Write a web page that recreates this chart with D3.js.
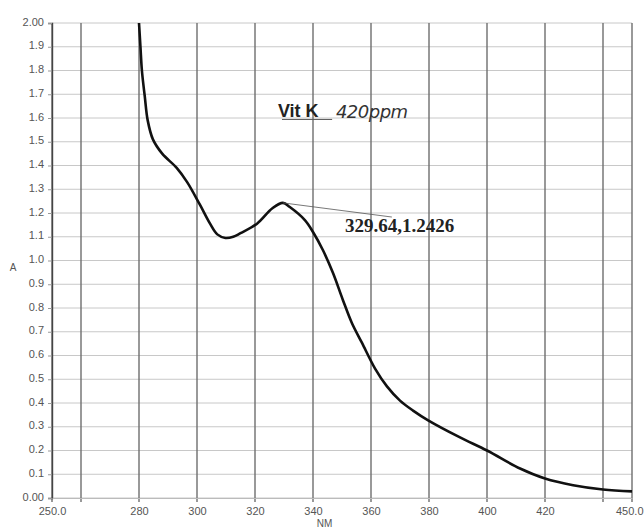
<!DOCTYPE html>
<html>
<head>
<meta charset="utf-8">
<script src="https://cdn.jsdelivr.net/npm/d3@7"></script>
<style>
  body { margin: 0; background: #fff; }
  svg { display: block; font-family: "Liberation Sans", Arial, sans-serif; }
</style>
</head>
<body>
<div id="chart"></div>
<script>
// spectrum
var wavelength = [280, 280.5, 281, 282, 283, 284.8, 288, 293, 296.6, 301, 304.5, 307, 309.8, 312.5, 315, 320.7, 326, 329.64, 332, 337.2, 340, 343.4, 346.9, 350.3, 353.4, 356.9, 361.4, 365.5, 370, 374.5, 379.7, 390.7, 400, 411.4, 420, 429.7, 440, 450];
var absorbance = [2.0, 1.9, 1.8, 1.69, 1.59, 1.51, 1.45, 1.39, 1.33, 1.235, 1.155, 1.11, 1.095, 1.1, 1.115, 1.155, 1.22, 1.2426, 1.225, 1.17, 1.12, 1.044, 0.947, 0.834, 0.737, 0.653, 0.545, 0.47, 0.41, 0.368, 0.327, 0.255, 0.2, 0.124, 0.082, 0.054, 0.036, 0.028];

var xTicks = [250, 280, 300, 320, 340, 360, 380, 400, 420, 450];
var xGrid = [250, 260, 280, 300, 320, 340, 360, 380, 400, 420, 440, 450];
var yTicks = d3.range(0, 21).map(function(i) { return i / 10; });

var peak = {nm: 329.64, a: 1.2426, label: "329.64,1.2426"};

var W = 644, H = 528;
var margin = {left: 52, right: 12, top: 23, bottom: 30};
var width = W - margin.left - margin.right;
var height = H - margin.top - margin.bottom;

var svg = d3.select("#chart").append("svg")
    .attr("width", W)
    .attr("height", H);

var chart = svg.append("g")
    .attr("transform", "translate(" + margin.left + "," + margin.top + ")");

var x = d3.scaleLinear().domain([250, 450]).range([0, width]);
var y = d3.scaleLinear().domain([0, 2]).range([height, 0]);

// horizontal grid, light
chart.append("g")
    .selectAll("line")
    .data(yTicks)
    .enter().append("line")
    .attr("x1", 0).attr("x2", width)
    .attr("y1", function(d) { return y(d); })
    .attr("y2", function(d) { return y(d); })
    .attr("stroke", "#c8c8c8")
    .attr("stroke-width", 1);

// vertical grid, dark
chart.append("g")
    .selectAll("line")
    .data(xGrid)
    .enter().append("line")
    .attr("x1", function(d) { return x(d); })
    .attr("x2", function(d) { return x(d); })
    .attr("y1", 0).attr("y2", height + 4)
    .attr("stroke", "#6e6e6e")
    .attr("stroke-width", 1.4);

// y axis
var yAxis = d3.axisLeft(y)
    .tickValues(yTicks)
    .tickSize(4)
    .tickPadding(4)
    .tickFormat(function(d) { return (d === 0 || d === 2) ? d3.format(".2f")(d) : d3.format(".1f")(d); });

var gy = chart.append("g").call(yAxis);
gy.select(".domain").attr("stroke", "#444").attr("stroke-width", 1.4);
gy.selectAll(".tick line").attr("stroke", "#999");
gy.selectAll("text").attr("fill", "#555").attr("font-size", 11).attr("dy", "0.2em");

// x axis
var xAxis = d3.axisBottom(x)
    .tickValues(xTicks)
    .tickSize(0)
    .tickPadding(9)
    .tickFormat(function(d) { return (d === 250 || d === 450) ? d3.format(".1f")(d) : d; });

var gx = chart.append("g")
    .attr("transform", "translate(0," + height + ")")
    .call(xAxis);
gx.select(".domain").attr("stroke", "#bbb");
gx.selectAll("text").attr("fill", "#555").attr("font-size", 11);
// last label sits against the page edge
gx.selectAll(".tick text").filter(function(d) { return d === 450; })
    .attr("text-anchor", "end")
    .attr("dx", margin.right - 1);

// axis titles
svg.append("text")
    .attr("x", 13).attr("y", 271)
    .attr("text-anchor", "middle")
    .attr("font-size", 10)
    .attr("fill", "#555")
    .text("A");

svg.append("text")
    .attr("x", margin.left + x(344)).attr("y", 527)
    .attr("text-anchor", "middle")
    .attr("font-size", 10)
    .attr("fill", "#555")
    .text("NM");

// spectrum curve
var pts = wavelength.map(function(d, i) { return [d, absorbance[i]]; });
var line = d3.line()
    .x(function(d) { return x(d[0]); })
    .y(function(d) { return y(d[1]); })
    .curve(d3.curveCatmullRom.alpha(0.5));

chart.append("path")
    .datum(pts)
    .attr("fill", "none")
    .attr("stroke", "#111")
    .attr("stroke-width", 2.6)
    .attr("stroke-linejoin", "round")
    .attr("d", line);

// peak annotation
chart.append("line")
    .attr("x1", x(peak.nm)).attr("y1", y(peak.a))
    .attr("x2", x(367.2)).attr("y2", y(1.183))
    .attr("stroke", "#555")
    .attr("stroke-width", 0.8);

chart.append("text")
    .attr("x", x(351)).attr("y", y(1.12))
    .attr("font-family", "'Liberation Serif', 'Times New Roman', serif")
    .attr("font-weight", "bold")
    .attr("font-size", 19)
    .attr("fill", "#222")
    .text(peak.label);

// title note
var note = chart.append("g");
note.append("text")
    .attr("x", x(327.9)).attr("y", y(1.604))
    .attr("font-weight", "bold")
    .attr("font-size", 18)
    .attr("fill", "#222")
    .text("Vit K");
note.append("line")
    .attr("x1", x(329.3)).attr("x2", x(346.6))
    .attr("y1", y(1.594)).attr("y2", y(1.594))
    .attr("stroke", "#555").attr("stroke-width", 1);
note.append("text")
    .attr("x", x(347.9)).attr("y", y(1.6))
    .attr("font-family", "'DejaVu Sans', sans-serif")
    .attr("font-style", "italic")
    .attr("font-weight", 300)
    .attr("font-size", 18)
    .attr("letter-spacing", -0.5)
    .attr("fill", "#333")
    .text("420ppm");
</script>
</body>
</html>
